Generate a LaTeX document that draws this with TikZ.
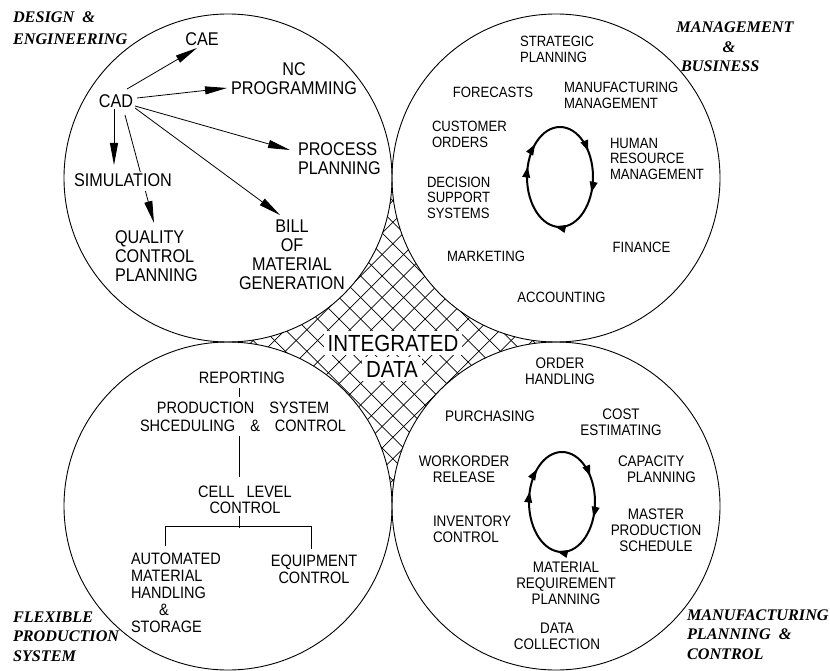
\documentclass[tikz,border=0pt]{standalone}
\usepackage{fontspec}
\setmainfont{Liberation Serif}
\newfontfamily\cadfont[FakeStretch=0.88]{Liberation Sans}
\usetikzlibrary{arrows.meta,decorations.markings}
\begin{document}
\begin{tikzpicture}[x=1pt,y=-1pt,
  every node/.style={inner sep=0pt, outer sep=0pt},
  ftl/.style={font=\cadfont\fontsize{18.4}{19}\selectfont},
  ftr/.style={font=\cadfont\fontsize{14.9}{15.5}\selectfont},
  fbl/.style={font=\cadfont\fontsize{16.5}{17}\selectfont},
  fbr/.style={font=\cadfont\fontsize{15.3}{16}\selectfont},
  fbig/.style={font=\cadfont\fontsize{23.3}{26}\selectfont},
  lbl/.style={font=\bfseries\itshape\fontsize{16.2}{19.5}\selectfont},
  ring/.style={line width=0.9pt},
  link/.style={line width=0.8pt},
  arr/.style={link,-{Triangle[length=22pt,width=8pt]}},
  hatchline/.style={line width=0.7pt},
  cyctip/.tip={Triangle[length=11pt,width=7.5pt]},
  cyc/.style={line width=2pt, line join=round, postaction={decorate},
    decoration={markings,
      mark=at position 0.06 with {\arrow{cyctip}},
      mark=at position 0.27 with {\arrow{cyctip}},
      mark=at position 0.54 with {\arrow{cyctip}},
      mark=at position 0.63 with {\arrow{cyctip}},
      mark=at position 0.90 with {\arrow{cyctip}}}}
]
\useasboundingbox (0,0) rectangle (830,671);
\coordinate (ctl) at (228,178);
\coordinate (ctr) at (556,178);
\coordinate (cbl) at (228,506);
\coordinate (cbr) at (556,506);

% hatched integrated-data region
\begin{scope}
\clip (392,178) arc[start angle=180,end angle=90,radius=164]
  arc[start angle=270,end angle=180,radius=164]
  arc[start angle=360,end angle=270,radius=164]
  arc[start angle=90,end angle=0,radius=164] -- cycle;
\foreach \k in {-13,...,22}
  \draw[hatchline] ({-44.3+21.5*\k+178},178) -- ({-44.3+21.5*\k+506},506);
\foreach \k in {-18,...,15}
  \draw[hatchline] ({765.7+21.5*\k-178},178) -- ({765.7+21.5*\k-506},506);
\end{scope}

\draw[ring] (ctl) circle[radius=164];
\draw[ring] (ctr) circle[radius=164];
\draw[ring] (cbl) circle[radius=164];
\draw[ring] (cbr) circle[radius=164];

\node[fbig, fill=white, inner sep=4pt] (int) at (393,343) {INTEGRATED};
\node[fbig, fill=white, inner sep=4pt] (dat) at (392,369) {DATA};

% ---- Design & Engineering
\node[font=\bfseries\itshape\fontsize{16.2}{22}\selectfont, align=left, anchor=west] (de) at (13,28) {DESIGN\ \ \&\\ENGINEERING};
\node[ftl] (cae) at (202,39) {CAE};
\node[ftl, align=center] (nc) at (294,79) {NC\\PROGRAMMING};
\node[ftl] (cad) at (116,101) {CAD};
\node[ftl] (sim) at (123,180) {SIMULATION};
\node[ftl, align=left, anchor=west] (qcp) at (115,256) {QUALITY\\CONTROL\\PLANNING};
\node[ftl, align=left, anchor=west] (pp) at (298,158.5) {PROCESS\\PLANNING};
\node[ftl, align=center] (bom) at (292,255) {BILL\\OF\\MATERIAL\\GENERATION};

\draw[arr] ([shift={(11,-12)}]cad.center) -- ([shift={(-5,9)}]cae.center);
\draw[arr] ([shift={(21,-3)}]cad.center) -- ([shift={(-67,9)}]nc.center);
\draw[arr] ([shift={(19,5)}]cad.center) -- ([shift={(-8,-8.5)}]pp.west);
\draw[arr] ([shift={(19,7)}]cad.center) -- ([shift={(-12,-40)}]bom.center);
\draw[arr] ([shift={(-2,8)}]cad.center) -- ([shift={(-9,-15)}]sim.center);
\draw[link] ([shift={(9,14)}]cad.center) -- ([shift={(17.3,-8)}]sim.center);
\draw[arr] ([shift={(22.4,11)}]sim.center) -- ([shift={(39,-33)}]qcp.west);

% ---- Management & Business
\node[lbl] (mb1) at (735,27) {MANAGEMENT};
\node[lbl] (mb2) at (729,47) {\&};
\node[lbl, anchor=west] (mb3) at (681,66) {BUSINESS};
\node[ftr, align=left, anchor=west] (sp) at (520,49.5) {STRATEGIC\\PLANNING};
\node[ftr] (fc) at (493,92) {FORECASTS};
\node[ftr, align=left, anchor=west] (mm) at (564,95.5) {MANUFACTURING\\MANAGEMENT};
\node[ftr, align=left, anchor=west] (co) at (432,134.5) {CUSTOMER\\ORDERS};
\node[ftr, align=left, anchor=west] (hr) at (610,158.5) {HUMAN\\RESOURCE\\MANAGEMENT};
\node[ftr, align=left, anchor=west] (dss) at (427,197.5) {DECISION\\SUPPORT\\SYSTEMS};
\node[ftr] (fin) at (641.5,247) {FINANCE};
\node[ftr] (mkt) at (486,256) {MARKETING};
\node[ftr] (acc) at (561.5,297) {ACCOUNTING};
\coordinate (cy1) at (560,177);
\draw[cyc] (cy1) ellipse [x radius=33, y radius=50];

% ---- Flexible Production System
\node[fbl] (rep) at (242,378) {REPORTING};
\node[fbl, font=\cadfont\fontsize{16.5}{18}\selectfont, align=center] (pss) at (243,417) {PRODUCTION\hspace{15pt}SYSTEM\\SHCEDULING\hspace{15pt}\&\hspace{15pt}CONTROL};
\node[fbl, font=\cadfont\fontsize{16.5}{16.5}\selectfont, align=center] (cell) at (245,500) {CELL\hspace{12pt}LEVEL\\CONTROL};
\node[fbl, align=left, anchor=west] (amhs) at (131,593) {AUTOMATED\\MATERIAL\\HANDLING\\\hspace*{28pt}\&\\STORAGE};
\node[fbl, align=center] (eq) at (314,569) {EQUIPMENT\\CONTROL};
\node[lbl, align=left, anchor=west] (fps) at (13,636.5) {FLEXIBLE\\PRODUCTION\\SYSTEM};

\draw[link] ([shift={(-3,4)}]rep.south) -- ([shift={(-4,-5)}]pss.north);
\draw[link] ([shift={(-4,4)}]pss.south) -- ([shift={(-6,-8.5)}]cell.north);
\draw[link] ([shift={(-6,1.5)}]cell.south) -- ([shift={(-6,13.5)}]cell.south);
\draw[link] ([shift={(34,-6.8)}]amhs.north west) -- ++(0,-20) -| ([shift={(-3,-5.3)}]eq.north);

% ---- Manufacturing Planning & Control
\node[fbr, align=center] (oh) at (560,371) {ORDER\\HANDLING};
\node[fbr] (pur) at (490,416) {PURCHASING};
\node[fbr, align=center] (ce) at (621,422.5) {COST\\ESTIMATING};
\node[fbr, align=center] (wr) at (464,469) {WORKORDER\\RELEASE};
\node[fbr, align=left, anchor=west] (cap) at (618,469) {CAPACITY\\\hspace*{9pt}PLANNING};
\node[fbr, align=center] (mps) at (656,530) {MASTER\\PRODUCTION\\SCHEDULE};
\node[fbr, align=left, anchor=west] (ic) at (433,529) {INVENTORY\\CONTROL};
\node[fbr, align=center] (mrp) at (566,583) {MATERIAL\\REQUIREMENT\\PLANNING};
\node[fbr, align=center] (dc) at (557,636) {DATA\\COLLECTION};
\node[lbl, align=left, anchor=west] (mpc) at (687,634.5) {MANUFACTURING\\PLANNING\ \ \&\\CONTROL};
\coordinate (cy2) at (562,502);
\draw[cyc] (cy2) ellipse [x radius=33, y radius=50];
\end{tikzpicture}
\end{document}
